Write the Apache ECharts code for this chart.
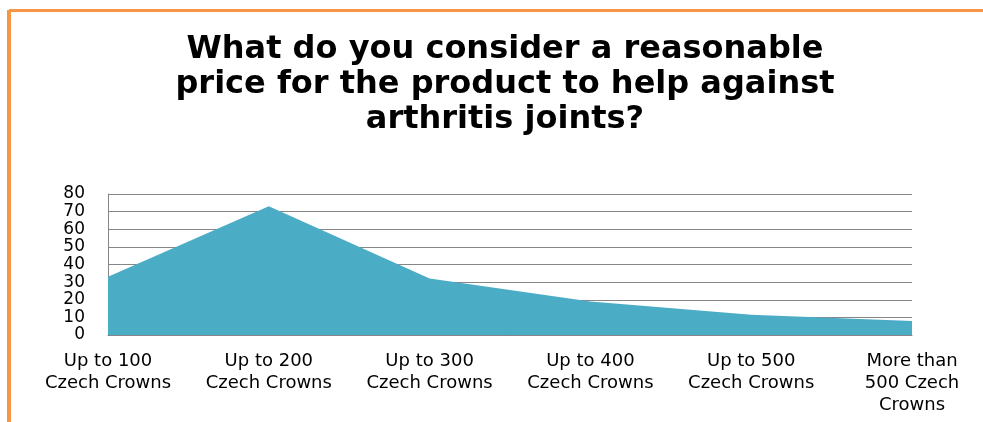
<!DOCTYPE html>
<html>
<head>
<meta charset="utf-8">
<script src="https://cdn.jsdelivr.net/npm/echarts@6/dist/echarts.min.js"></script>
<style>
  html, body { margin: 0; padding: 0; background: #ffffff; }
  #chart { width: 983px; height: 422px; }
</style>
</head>
<body>
<div id="chart"></div>
<script>
// Price brackets offered in the survey
const categories = [
  'Up to 100\nCzech Crowns',
  'Up to 200\nCzech Crowns',
  'Up to 300\nCzech Crowns',
  'Up to 400\nCzech Crowns',
  'Up to 500\nCzech Crowns',
  'More than\n500 Czech\nCrowns'
];
// Number of respondents per bracket
const responses = [33, 73, 32, 19, 11.5, 8];
const titleText = 'What do you consider a reasonable\nprice for the product to help against\narthritis joints?';

const chart = echarts.init(document.getElementById('chart'), null, { renderer: 'canvas' });

chart.setOption({
  backgroundColor: '#ffffff',
  animation: false,
  title: {
    text: titleText,
    left: 500,
    top: 27,
    textAlign: 'center',
    textStyle: {
      fontFamily: 'DejaVu Sans',
      fontWeight: 'bold',
      fontSize: 32,
      lineHeight: 35,
      color: '#000000'
    }
  },
  graphic: [
    // orange frame edges
    { type: 'rect', shape: { x: 7, y: 10, width: 4, height: 412 }, style: { fill: '#F79646' } },
    { type: 'rect', shape: { x: 9, y: 9, width: 974, height: 3 }, style: { fill: '#F79646' } }
  ],
  grid: { left: 108, right: 71, top: 194, bottom: 87, containLabel: false },
  xAxis: {
    type: 'category',
    data: categories,
    boundaryGap: false,
    axisLine: { show: true, lineStyle: { color: '#868686', width: 1 } },
    axisTick: { show: false },
    axisLabel: {
      interval: 0,
      margin: 15,
      fontFamily: 'DejaVu Sans',
      fontSize: 18,
      lineHeight: 22,
      color: '#000000'
    },
    splitLine: { show: false }
  },
  yAxis: {
    type: 'value',
    min: 0,
    max: 80,
    interval: 10,
    axisLine: { show: true, lineStyle: { color: '#868686', width: 1 } },
    axisTick: { show: false },
    axisLabel: {
      margin: 23,
      fontFamily: 'DejaVu Sans',
      fontSize: 17,
      color: '#000000'
    },
    splitLine: { show: true, lineStyle: { color: '#868686', width: 1 } }
  },
  series: [{
    type: 'line',
    data: responses,
    symbol: 'none',
    lineStyle: { width: 0 },
    areaStyle: { color: '#4BACC6', opacity: 1 },
    itemStyle: { color: '#4BACC6' }
  }]
});
</script>
</body>
</html>
